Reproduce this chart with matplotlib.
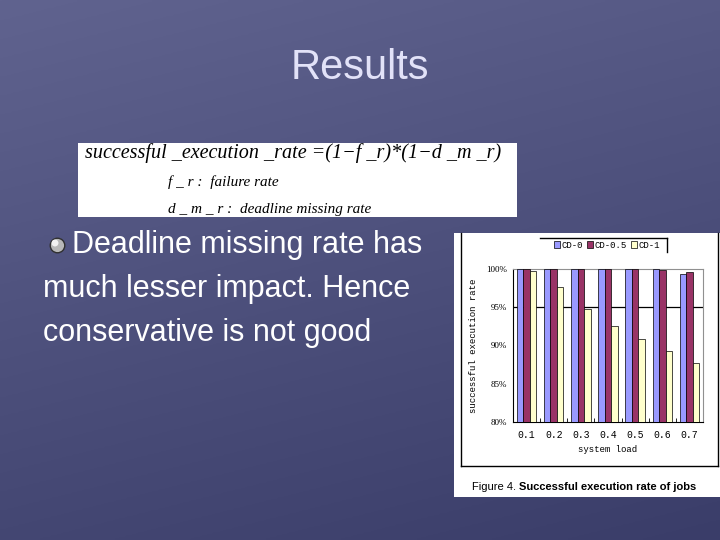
import numpy as np
import matplotlib
matplotlib.use("Agg")
import matplotlib.pyplot as plt
from matplotlib.patches import Rectangle
from matplotlib.lines import Line2D

# ---- data ----
loads = ["0.1", "0.2", "0.3", "0.4", "0.5", "0.6", "0.7"]
series_names = ["CD-0", "CD-0.5", "CD-1"]
cd0 = [100.0, 100.0, 100.0, 100.0, 100.0, 100.0, 99.3]
cd05 = [100.0, 100.0, 100.0, 100.0, 100.0, 99.9, 99.6]
cd1 = [99.8, 97.6, 94.8, 92.6, 90.9, 89.3, 87.7]
y_ticks = [80, 85, 90, 95, 100]
bar_colors = ["#9999ff", "#993366", "#ffffcc"]

W, H = 720, 540
fig = plt.figure(figsize=(7.2, 5.4), dpi=100)


def fx(x):
    return x / W


def fy(y):
    return 1 - y / H


# ---- slide background ----
bg = fig.add_axes([0, 0, 1, 1])
bg.set_axis_off()
yy, xx = np.mgrid[0:1:200j, 0:1:200j]
t = 0.75 * yy + 0.25 * xx
top = np.array([96, 99, 143]) / 255
bot = np.array([58, 61, 105]) / 255
img = top[None, None, :] * (1 - t[..., None]) + bot[None, None, :] * t[..., None]
bg.imshow(img, extent=[0, 1, 0, 1], aspect="auto", origin="upper")
bg.set_xlim(0, 1)
bg.set_ylim(0, 1)

# title
fig.text(fx(360), fy(68), "Results", color="#e2e2f8", fontsize=30,
         family="Liberation Sans", ha="center", va="center")

# formula box
fig.patches.append(Rectangle((fx(78), fy(217)), fx(517) - fx(78), fy(143) - fy(217),
                             transform=fig.transFigure, facecolor="white",
                             edgecolor="none", zorder=1))
fig.text(fx(85), fy(153), "successful _execution _rate =(1\u2212f _r)*(1\u2212d _m _r)",
         fontsize=14.5, family="Liberation Serif", style="italic", color="black",
         ha="left", va="center", zorder=2)
fig.text(fx(168), fy(182), "f _ r :  failure rate", fontsize=11,
         family="Liberation Serif", style="italic", color="black",
         ha="left", va="center", zorder=2)
fig.text(fx(168), fy(209), "d _ m _ r :  deadline missing rate", fontsize=11,
         family="Liberation Serif", style="italic", color="black",
         ha="left", va="center", zorder=2)

# bullet text
bg.scatter([fx(57)], [fy(245)], s=110, color="#b8b8b8", edgecolor="#303030",
           linewidth=1.0, zorder=3)
bg.scatter([fx(55)], [fy(243)], s=25, color="#f2f2f2", edgecolor="none", zorder=4)
fig.text(fx(72), fy(245), "Deadline missing rate has", color="white", fontsize=22,
         family="Liberation Sans", ha="left", va="center")
fig.text(fx(43), fy(289), "much lesser impact. Hence", color="white", fontsize=22,
         family="Liberation Sans", ha="left", va="center")
fig.text(fx(43), fy(333), "conservative is not good", color="white", fontsize=22,
         family="Liberation Sans", ha="left", va="center")

# ---- embedded figure image ----
fig.patches.append(Rectangle((fx(454), fy(497)), fx(720) - fx(454), fy(233) - fy(497),
                             transform=fig.transFigure, facecolor="white",
                             edgecolor="none", zorder=1))
frame_kw = dict(transform=fig.transFigure, color="black", linewidth=1.0, zorder=2)
fig.lines.append(Line2D([fx(461), fx(461)], [fy(233), fy(466)], **frame_kw))
fig.lines.append(Line2D([fx(461), fx(718)], [fy(466), fy(466)], **frame_kw))
fig.lines.append(Line2D([fx(718), fx(718)], [fy(233), fy(466)], **frame_kw))
fig.lines.append(Line2D([fx(540), fx(667)], [fy(238), fy(238)], **frame_kw))
fig.lines.append(Line2D([fx(667), fx(667)], [fy(238), fy(252)], **frame_kw))

cap1 = fig.text(fx(472), fy(487), "Figure 4. ", fontsize=8, family="Liberation Sans",
                ha="left", va="center", color="black", zorder=3)
fig.canvas.draw()
w1 = cap1.get_window_extent().width
fig.text(fx(472 + w1), fy(487), "Successful execution rate of jobs", fontsize=8,
         family="Liberation Sans", weight="bold", ha="left", va="center",
         color="black", zorder=3)

# ---- the bar chart ----
ax = fig.add_axes([fx(513), fy(422), fx(703) - fx(513), fy(269) - fy(422)])
ax.set_zorder(5)
ax.set_facecolor("white")
x = np.arange(len(loads))
bw = 0.24
for i, (vals, name, col) in enumerate(zip([cd0, cd05, cd1], series_names, bar_colors)):
    ax.bar(x + (i - 1) * bw, np.array(vals) - 80, bottom=80, width=bw, color=col,
           edgecolor="black", linewidth=0.5, label=name, zorder=3)

ax.axhline(95, color="black", linewidth=0.9, zorder=1)
ax.set_ylim(80, 100)
ax.set_xlim(-0.5, len(loads) - 0.5)
ax.set_yticks(y_ticks)
ax.set_yticklabels([f"{v}%" for v in y_ticks], family="Liberation Serif", fontsize=6.5)
ax.set_xticks(x)
ax.set_xticklabels(loads, family="Liberation Mono", fontsize=7)
ax.set_xticks(np.arange(len(loads) + 1) - 0.5, minor=True)
ax.tick_params(axis="x", which="major", length=0, pad=6)
ax.tick_params(axis="x", which="minor", length=3, direction="in", width=0.6)
ax.tick_params(axis="y", length=0, pad=4)
ax.set_xlabel("system load", family="Liberation Mono", fontsize=6.5, labelpad=3)
ax.set_ylabel("successful execution rate", family="Liberation Mono", fontsize=6.5,
              labelpad=6)
for side in ["top", "right"]:
    ax.spines[side].set_color("#909090")
    ax.spines[side].set_linewidth(0.8)
for side in ["left", "bottom"]:
    ax.spines[side].set_color("black")
    ax.spines[side].set_linewidth(0.8)

leg = fig.legend(loc="center", bbox_to_anchor=(fx(607), fy(245)), ncol=3,
                 frameon=False, handlelength=0.7, handleheight=0.7,
                 handletextpad=0.2, columnspacing=0.4,
                 prop={"family": "Liberation Mono", "size": 6.5})
leg.set_zorder(6)

fig.savefig("out.png", dpi=100)
